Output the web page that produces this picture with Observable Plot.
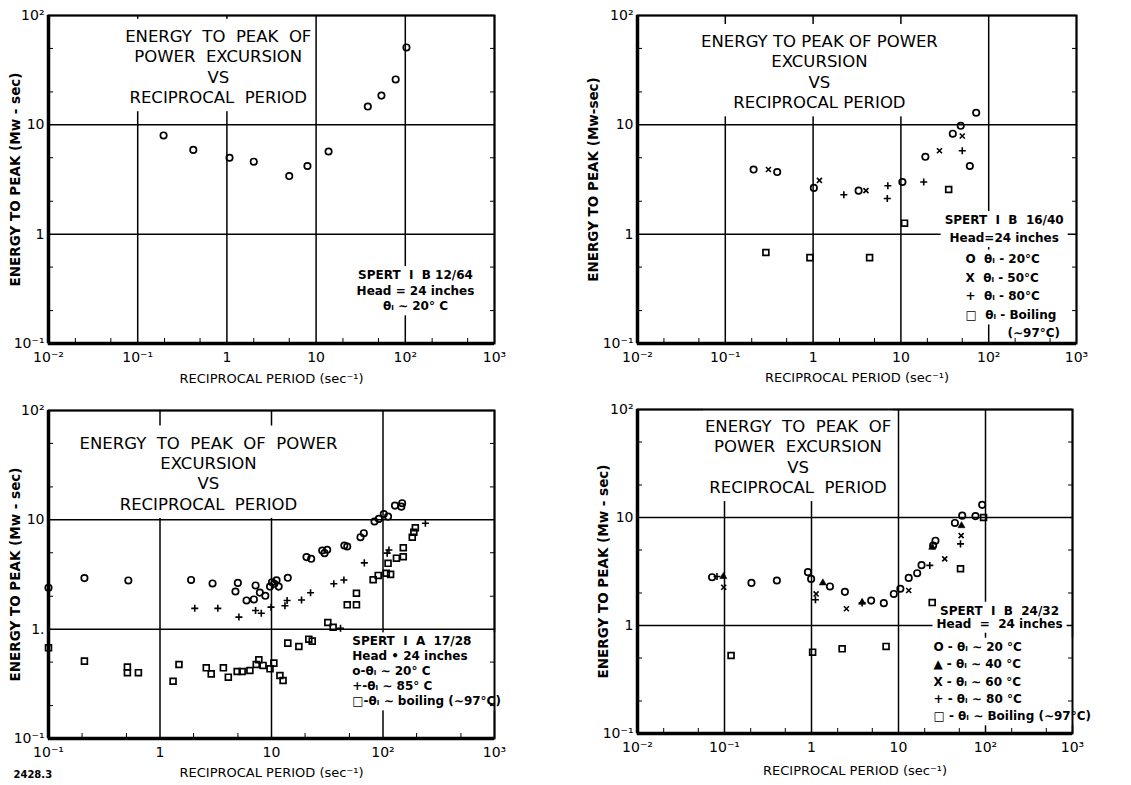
<!DOCTYPE html>
<html><head><meta charset="utf-8">
<script src="https://cdn.jsdelivr.net/npm/d3@7"></script>
<script src="https://cdn.jsdelivr.net/npm/@observablehq/plot@0.6"></script>
<style>
html,body{margin:0;padding:0;background:#fff;}
#page{position:relative;width:1131px;height:785px;overflow:hidden;background:#fff;}
.panel{position:absolute;}
.panel svg{display:block;}
</style></head><body><div id="page"></div>
<script>
// ---------- tick values and labels ----------
const xTicksWide = [0.01, 0.1, 1, 10, 100, 1000];
const xTickLabelsWide = ["10⁻²", "10⁻¹", "1", "10", "10²", "10³"];
const xTicksNarrow = [0.1, 1, 10, 100, 1000];
const xTickLabelsNarrow = ["10⁻¹", "1", "10", "10²", "10³"];
const yTicks = [0.1, 1, 10, 100];
const yTickLabels = ["10⁻¹", "1", "10", "10²"];
const yTickLabelsP3 = ["10⁻¹", "1.", "10", "10²"];

// ---------- Panel 1: SPERT I B 12/64 ----------
const p1Temp20 = [[0.195,8.0],[0.42,5.9],[1.07,5.0],[2.0,4.6],[5.0,3.4],[8.0,4.2],[13.8,5.7],[38,14.7],[54,18.5],[78,26],[103,51]];

// ---------- Panel 2: SPERT I B 16/40 ----------
const p2Temp20 = [[0.21,3.9],[0.39,3.7],[1.02,2.65],[3.3,2.5],[10.4,3.0],[19,5.1],[39,8.3],[48,9.8],[61,4.2],[72,12.9]];
const p2Temp50 = [[0.31,3.9],[1.18,3.1],[4.0,2.5],[27.5,5.8],[50,7.9]];
const p2Temp80 = [[2.24,2.29],[7.1,2.77],[7.0,2.12],[18.2,3.0],[50,5.8]];
const p2Boiling = [[0.29,0.68],[0.92,0.61],[4.4,0.61],[11,1.26],[35,2.56]];

// ---------- Panel 3: SPERT I A 17/28 ----------
const p3Temp20 = [[0.1,2.39],[0.21,2.93],[0.52,2.79],[1.9,2.82],[2.96,2.62],[4.75,2.21],[4.99,2.65],[5.97,1.83],[6.95,1.87],[7.2,2.51],[7.86,2.16],[8.8,2.02],[9.7,2.45],[10.1,2.69],[10.6,2.6],[11.1,2.8],[11.6,2.45],[14,2.95],[20.6,4.56],[22.7,4.4],[28.5,5.24],[29.9,4.96],[31.6,5.32],[45,5.82],[47.8,5.7],[62.8,6.94],[67.3,7.55],[83.9,9.66],[91.8,10.2],[101.7,11.3],[111,10.7],[128,13.5],[148.5,14.2],[146,13.2]];
const p3Temp85 = [[2.05,1.55],[3.3,1.55],[5.1,1.29],[7.2,1.48],[8.1,1.4],[9.9,1.59],[13.2,1.64],[13.8,1.83],[18.6,1.85],[22.4,2.15],[36.2,2.6],[44.6,2.82],[68,4.04],[109,4.96],[113,5.3],[240,9.3],[41.6,1.02]];
const p3Boiling = [[0.1,0.675],[0.21,0.51],[0.51,0.45],[0.51,0.40],[0.64,0.40],[1.31,0.334],[1.48,0.475],[2.6,0.443],[2.88,0.39],[3.7,0.443],[4.1,0.364],[4.92,0.41],[5.46,0.41],[6.4,0.419],[7.3,0.475],[7.7,0.525],[8.4,0.466],[9.7,0.434],[10.5,0.489],[11.9,0.377],[12.7,0.339],[14,0.745],[17.6,0.694],[21.6,0.81],[23.2,0.777],[32,1.15],[35.7,1.04],[47.8,1.67],[57.8,1.67],[57.8,2.13],[81.6,2.83],[90.6,3.1],[107,3.25],[117,3.17],[111,4.0],[132,4.46],[152,4.6],[152,5.55],[183,6.94],[189,7.7],[195,8.45]];

// ---------- Panel 4: SPERT I B 24/32 ----------
const p4Temp20 = [[0.072,2.8],[0.204,2.48],[0.40,2.61],[0.91,3.12],[0.99,2.7],[1.63,2.3],[2.42,2.05],[4.85,1.70],[6.78,1.61],[8.83,1.96],[10.5,2.19],[13.1,2.76],[16.4,3.05],[18.4,3.62],[26.6,6.1],[25,5.5],[44.5,8.9],[54,10.4],[76.7,10.3],[91.6,13.1]];
const p4Temp40 = [[0.097,2.84],[1.35,2.48],[3.82,1.64],[24.4,5.3],[53,8.4]];
const p4Temp60 = [[0.098,2.26],[1.13,1.96],[2.52,1.43],[13.1,2.11],[34,4.14],[52.5,6.8]];
const p4Temp80 = [[0.082,2.84],[1.11,1.73],[3.82,1.62],[22.9,3.6],[51.6,5.7]];
const p4Boiling = [[0.119,0.527],[1.03,0.566],[2.25,0.608],[7.2,0.64],[24.4,1.63],[51.6,3.35],[95,10]];

// ---------- texts ----------
const xLabel = "RECIPROCAL PERIOD (sec⁻¹)";
const yLabel = "ENERGY TO PEAK (Mw - sec)";
const yLabel2 = "ENERGY TO PEAK (Mw-sec)";
const title1 = "ENERGY  TO  PEAK  OF\nPOWER  EXCURSION\nVS\nRECIPROCAL  PERIOD";
const title2 = "ENERGY TO PEAK OF POWER\nEXCURSION\nVS\nRECIPROCAL PERIOD";
const title3 = "ENERGY  TO  PEAK  OF  POWER\nEXCURSION\nVS\nRECIPROCAL  PERIOD";
const title4 = "ENERGY  TO  PEAK  OF\nPOWER  EXCURSION\nVS\nRECIPROCAL  PERIOD";
const note1 = "SPERT  I  B 12/64\nHead = 24 inches\nθᵢ ∼ 20° C";
const note2Head = "SPERT  I  B  16/40\nHead=24 inches";
const note2Keys = "O  θᵢ - 20°C\nX  θᵢ - 50°C\n+  θᵢ - 80°C\n□  θᵢ - Boiling";
const note2Tail = "(∼97°C)";
const note3 = "SPERT  I  A  17/28\nHead • 24 inches\no-θᵢ ∼ 20° C\n+-θᵢ ∼ 85° C\n□-θᵢ ∼ boiling (∼97°C)";
const note4Head = "SPERT  I  B  24/32\nHead  =  24 inches";
const note4Keys = "O - θᵢ ∼ 20 °C\n▲ - θᵢ ∼ 40 °C\nX - θᵢ ∼ 60 °C\n+ - θᵢ ∼ 80 °C\n□ - θᵢ ∼ Boiling (∼97°C)";
const figCode = "2428.3";

// ---------- styling ----------
const FONT = '"DejaVu Sans", sans-serif';
const sym = {
  circle:   {symbol: "circle",   r: 3.2, fill: "none",  stroke: "black", strokeWidth: 1.7},
  square:   {symbol: "square",   r: 3.3, fill: "none",  stroke: "black", strokeWidth: 1.7},
  plus:     {symbol: "plus",     r: 2.4, fill: "none",  stroke: "black", strokeWidth: 1.6},
  times:    {symbol: "times",    r: 2.4, fill: "none",  stroke: "black", strokeWidth: 1.6},
  triangle: {symbol: "triangle", r: 2.6, fill: "black", stroke: "black", strokeWidth: 0.6}
};

function titleMark(t, x, y) {
  return Plot.text([t], {x: [x], y: [y], text: d => d, lineAnchor: "top", textAnchor: "middle",
    fontFamily: FONT, fontSize: 16.5, lineHeight: 1.24, fill: "black"});
}
function noteMark(t, x, y, o = {}) {
  return Plot.text([t], {x: [x], y: [y], text: d => d, lineAnchor: "top", textAnchor: "middle",
    fontFamily: FONT, fontSize: 12, fontWeight: "bold", lineHeight: 1.35, fill: "black", ...o});
}

function makePanel(o) {
  const minor = ticks => ticks.slice(0, -1).flatMap(t => [2 * t, 5 * t]);
  const xf = v => o.xLabels[o.xTicks.indexOf(v)] ?? "";
  const yf = v => o.yLabels[yTicks.indexOf(v)] ?? "";
  return Plot.plot({
    width: o.width, height: o.height,
    marginLeft: o.ml, marginRight: o.mr, marginTop: o.mt, marginBottom: o.mb,
    x: {type: "log", domain: [o.xTicks[0], o.xTicks[o.xTicks.length - 1]], axis: null},
    y: {type: "log", domain: [yTicks[0], yTicks[yTicks.length - 1]], axis: null},
    style: {fontFamily: FONT, fontSize: "13px", color: "black", background: "white", overflow: "visible"},
    marks: [
      Plot.ruleX(o.xTicks, {stroke: "black", strokeWidth: 1.5}),
      Plot.ruleY(yTicks, {stroke: "black", strokeWidth: 1.5}),
      ...o.texts,
      ...o.series.map(s => Plot.dot(s.data, {x: d => d[0], y: d => d[1], ...sym[s.symbol]})),
      Plot.frame({stroke: "black", strokeWidth: 2}),
      Plot.ruleX([o.xTicks[0]], {stroke: "black", strokeWidth: 3.5}),
      Plot.ruleY([yTicks[0]], {stroke: "black", strokeWidth: 3.5}),
      Plot.axisX({ticks: minor(o.xTicks), tickSize: -5, tickFormat: () => "", label: null}),
      Plot.axisY({anchor: "left", ticks: minor(yTicks), tickSize: -5, tickFormat: () => "", label: null}),
      Plot.axisY({anchor: "right", ticks: minor(yTicks), tickSize: -5, tickFormat: () => "", label: null}),
      Plot.axisX({ticks: o.xTicks, tickFormat: xf, tickSize: 0, tickPadding: 9, label: null, fontSize: 14}),
      Plot.axisY({ticks: yTicks, tickFormat: yf, tickSize: 0, tickPadding: 4, label: null, fontSize: 14}),
      Plot.text([xLabel], {frameAnchor: "bottom", dy: o.xlDy, text: d => d, fontSize: 13, textAnchor: "middle", lineAnchor: "middle"}),
      Plot.text([o.yLabel], {frameAnchor: "left", dx: o.ylDx, rotate: -90, text: d => d, fontSize: 13.5, fontWeight: "bold", textAnchor: "middle", lineAnchor: "middle"}),
      ...(o.extra || [])
    ]
  });
}

// White patch behind multi-line lettered blocks: the grid is interrupted behind the lettering in the original.
function blankBehind(svg) {
  svg.querySelectorAll("text").forEach(t => {
    if (t.querySelectorAll("tspan").length < 2) return;
    const isTitle = t.textContent.startsWith("ENERGY");
    const padX = isTitle ? 2 : 4, padTop = isTitle ? 8 : 2, padBottom = isTitle ? 4 : 2;
    const b = t.getBBox();
    const r = document.createElementNS("http://www.w3.org/2000/svg", "rect");
    r.setAttribute("x", b.x - padX);
    r.setAttribute("y", b.y - padTop);
    r.setAttribute("width", b.width + 2 * padX);
    r.setAttribute("height", b.height + padTop + padBottom);
    r.setAttribute("fill", "white");
    r.setAttribute("stroke", "none");
    const tr = t.getAttribute("transform");
    if (tr) r.setAttribute("transform", tr);
    t.parentNode.insertBefore(r, t);
  });
}

const page = document.getElementById("page");
function place(svg, left, top) {
  const d = document.createElement("div");
  d.className = "panel";
  d.style.left = left + "px";
  d.style.top = top + "px";
  d.appendChild(svg);
  page.appendChild(d);
  blankBehind(svg);
}

// Panel 1
place(makePanel({
  width: 560, height: 390, ml: 48, mr: 66, mt: 15, mb: 47,
  xTicks: xTicksWide, xLabels: xTickLabelsWide, yLabels: yTickLabels,
  yLabel: yLabel, ylDx: -33, xlDy: 35,
  texts: [titleMark(title1, 0.8, 78), noteMark(note1, 130, 0.49, {lineHeight: 1.3})],
  series: [{data: p1Temp20, symbol: "circle"}]
}), 0, 0);

// Panel 2
place(makePanel({
  width: 571, height: 390, ml: 77, mr: 55, mt: 15, mb: 47,
  xTicks: xTicksWide, xLabels: xTickLabelsWide, yLabels: yTickLabels,
  yLabel: yLabel2, ylDx: -44, xlDy: 34,
  texts: [titleMark(title2, 1.18, 70),
          noteMark(note2Head, 150, 1.62, {lineHeight: 1.5}),
          noteMark(note2Keys, 54.5, 0.73, {textAnchor: "start", lineHeight: 1.58}),
          noteMark(note2Tail, 164, 0.146, {textAnchor: "start"})],
  series: [{data: p2Temp20, symbol: "circle"}, {data: p2Temp50, symbol: "times"},
           {data: p2Temp80, symbol: "plus"}, {data: p2Boiling, symbol: "square"}]
}), 560, 0);

// Panel 3
place(makePanel({
  width: 560, height: 395, ml: 48, mr: 66, mt: 20, mb: 47,
  xTicks: xTicksNarrow, xLabels: xTickLabelsNarrow, yLabels: yTickLabelsP3,
  yLabel: yLabel, ylDx: -33, xlDy: 34,
  texts: [titleMark(title3, 2.72, 61),
          noteMark(note3, 53, 0.89, {textAnchor: "start", lineHeight: 1.25})],
  series: [{data: p3Temp20, symbol: "circle"}, {data: p3Temp85, symbol: "plus"},
           {data: p3Boiling, symbol: "square"}],
  extra: [Plot.text([figCode], {frameAnchor: "bottom-left", dx: -35, dy: 39, text: d => d, textAnchor: "start", fontSize: 10, fontWeight: "bold"})]
}), 0, 390);

// Panel 4
place(makePanel({
  width: 571, height: 395, ml: 77, mr: 59, mt: 19, mb: 52,
  xTicks: xTicksWide, xLabels: xTickLabelsWide, yLabels: yTickLabels,
  yLabel: yLabel, ylDx: -34, xlDy: 37,
  texts: [titleMark(title4, 0.7, 85),
          noteMark(note4Head, 145, 1.53, {lineHeight: 1.08}),
          noteMark(note4Keys, 25.2, 0.76, {textAnchor: "start", lineHeight: 1.45})],
  series: [{data: p4Temp20, symbol: "circle"}, {data: p4Temp40, symbol: "triangle"},
           {data: p4Temp60, symbol: "times"}, {data: p4Temp80, symbol: "plus"},
           {data: p4Boiling, symbol: "square"}]
}), 560, 390);
</script>
</body></html>
